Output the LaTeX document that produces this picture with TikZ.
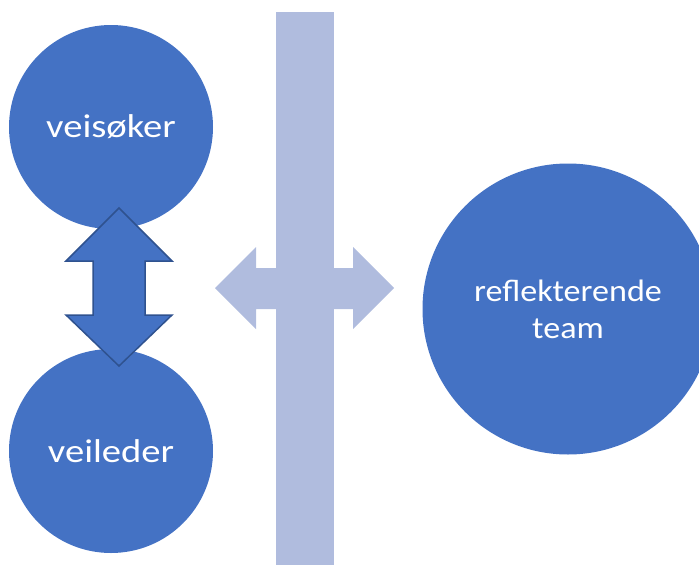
\documentclass[tikz,border=0pt]{standalone}
\usepackage{fontspec}
\setmainfont{Carlito}
\definecolor{accentblue}{RGB}{68,114,196}
\definecolor{edgeblue}{RGB}{47,82,143}
\definecolor{paleblue}{RGB}{176,188,222}
\newcommand{\stretched}[2][1.17]{\scalebox{#1}[1]{#2}}

\begin{document}
\begin{tikzpicture}[x=1pt,y=-1pt]
\useasboundingbox (0,0) rectangle (699,565);
\clip (0,0) rectangle (699,565);

% wall and the arrow through it
\fill[paleblue] (215,288) -- (256,247) -- (256,268) -- (353,268) -- (353,247)
    -- (394,288) -- (353,329) -- (353,309) -- (256,309) -- (256,329) -- cycle;
\fill[paleblue] (276,12) rectangle (334,565);

\begin{scope}[every node/.style={circle,fill=accentblue,text=white,inner sep=0pt,
              align=center}]
    \node (seeker) at (111,127) [minimum size=204,font=\fontsize{33}{39}\selectfont] {\stretched{veisøker}};
    \node (guide) at (111,451) [minimum size=204,font=\fontsize{33}{39}\selectfont] {\stretched{veileder}};
    \node (team) at (568,309) [minimum size=291,font=\fontsize{31}{37}\selectfont] {\stretched[1.1]{reflekterende}\\\stretched[1.1]{team}};
\end{scope}

% talk between seeker and guide
\filldraw[fill=accentblue, draw=edgeblue, line width=1.5pt, line join=miter]
    (119,208) -- (172,261) -- (145,261) -- (145,315) -- (172,315)
    -- (119,366) -- (66,315) -- (93,315) -- (93,261) -- (66,261) -- cycle;
\end{tikzpicture}
\end{document}
